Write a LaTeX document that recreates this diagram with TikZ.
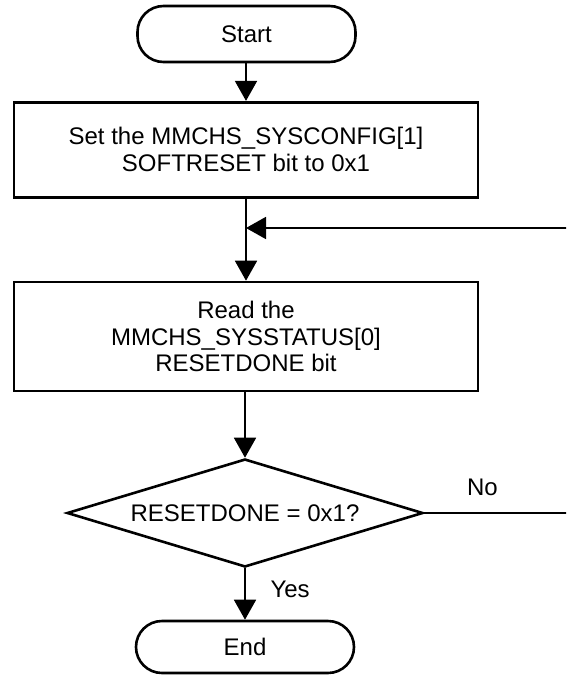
\documentclass[tikz,border=0pt]{standalone}
\usepackage{fontspec}
\setmainfont{Liberation Sans}
\usetikzlibrary{arrows.meta,shapes.geometric}
\begin{document}
\begin{tikzpicture}[x=1pt,y=-1pt,
  txt/.style={font=\fontsize{24}{26.7}\selectfont, text=black},
  term/.style={txt, draw, line width=2.6pt, rectangle, rounded corners=26pt, minimum width=218pt, inner sep=0pt},
  procbox/.style={txt, draw, line width=2.6pt, rectangle, align=center, minimum width=464pt, inner sep=0pt},
  decbox/.style={txt, draw, line width=2.6pt, diamond, aspect=3.28, minimum width=356pt, minimum height=108pt, inner sep=0pt},
  conn/.style={line width=1.8pt, -{Triangle[width=22pt,length=20pt]}},
  plain/.style={line width=1.8pt}
]
\useasboundingbox (0,0) rectangle (566,675);
\clip (0,0) rectangle (566,675);
\node[term, minimum height=56pt] (start) at (246.5,34) {Start};
\node[procbox, minimum height=95pt] (b1) at (246,149.7) {Set the MMCHS\_SYSCONFIG[1]\\SOFTRESET bit to 0x1};
\node[procbox, minimum height=109pt] (b2) at (246,336.5) {Read the\\MMCHS\_SYSSTATUS[0]\\RESETDONE bit};
\node[decbox] (dec) at (245,513) {RESETDONE = 0x1?};
\node[term, minimum height=52pt] (end) at (245,647) {End};
\coordinate (merge) at (246,228);
\coordinate (loopc) at (570,228);
\node[txt, anchor=center] (no) at (482.5,487) {No};
\node[txt, anchor=west] (yes) at (267,589) {Yes};

\draw[conn] (start.south -| 246,0) -- (b1.north -| 246,0);
\draw[plain] (b1.south -| 246,0) -- (merge);
\draw[conn] (merge) -- (b2.north -| 246,0);
\draw[conn] (b2.south -| 245,0) -- (dec.north);
\draw[conn] (dec.south) -- (end.north);
\draw[conn] (dec.east) -| (loopc) -- (merge);
\end{tikzpicture}
\end{document}
